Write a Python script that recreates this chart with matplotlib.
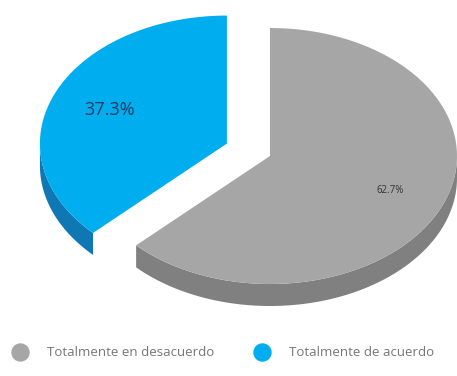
import numpy as np
import matplotlib.pyplot as plt
from matplotlib.patches import Polygon

# Survey answers
labels = ["Totalmente en desacuerdo", "Totalmente de acuerdo"]
values = [62.7, 37.3]
pct_labels = ["62.7%", "37.3%"]

top_colors = ["#A6A6A6", "#00AEEF"]
side_colors = ["#808080", "#0F78B4"]
text_colors = ["#333333", "#173A5E"]
text_sizes = [7, 13]
explode = [0.0, 0.25]

plt.rcParams["font.family"] = ["Open Sans", "DejaVu Sans"]

fig = plt.figure(figsize=(4.57, 3.76), dpi=100)
ax = fig.add_axes([0, 0, 1, 1])
ax.set_xlim(0, 457)
ax.set_ylim(376, 0)
ax.axis("off")

# Tilted-pie geometry (screen units)
cx, cy = 270, 156
rx, ry = 187, 128
depth = 22


def pt(theta_deg, off, z=0.0):
    t = np.radians(theta_deg)
    return (cx + off[0] + rx * np.cos(t), cy + off[1] - ry * np.sin(t) + z)


def arc(a, b, off, z=0.0, n=120):
    th = np.linspace(a, b, n)
    return [pt(t, off, z) for t in th]


total = sum(values)
# first series runs clockwise from 12 o'clock, second counter-clockwise
spans = []
sweep0 = 360 * values[0] / total
spans.append((90 - sweep0, 90))
spans.append((90, 90 + 360 * values[1] / total))

sides, tops = [], []
for i, (a, b) in enumerate(spans):
    mid = np.radians((a + b) / 2)
    off = (explode[i] * rx * np.cos(mid), -explode[i] * ry * np.sin(mid))
    # visible rim: where the arc faces the viewer (180..360 deg)
    for k in (-1, 0, 1):
        lo, hi = max(a, 180 + 360 * k), min(b, 360 + 360 * k)
        if hi > lo:
            rim = arc(lo, hi, off) + arc(lo, hi, off, depth)[::-1]
            sides.append(Polygon(rim, closed=True, fc=side_colors[i], ec="none"))
    top = [(cx + off[0], cy + off[1])] + arc(a, b, off)
    tops.append(Polygon(top, closed=True, fc=top_colors[i], ec="none"))
    r = 0.7 if i == 0 else 0.68
    lx = cx + off[0] + r * rx * np.cos(mid)
    ly = cy + off[1] - r * ry * np.sin(mid)
    ax.text(lx, ly, pct_labels[i], ha="center", va="center",
            fontsize=text_sizes[i], color=text_colors[i], zorder=5)

for p in sides + tops:
    ax.add_patch(p)

# Legend
leg_x = [20, 262]
for i, lab in enumerate(labels):
    ax.scatter([leg_x[i]], [352], s=150, color=top_colors[i], zorder=5)
    ax.text(leg_x[i] + 27, 352, lab, ha="left", va="center",
            fontsize=9.5, color="#767676")

fig.savefig("out.png", dpi=100)
